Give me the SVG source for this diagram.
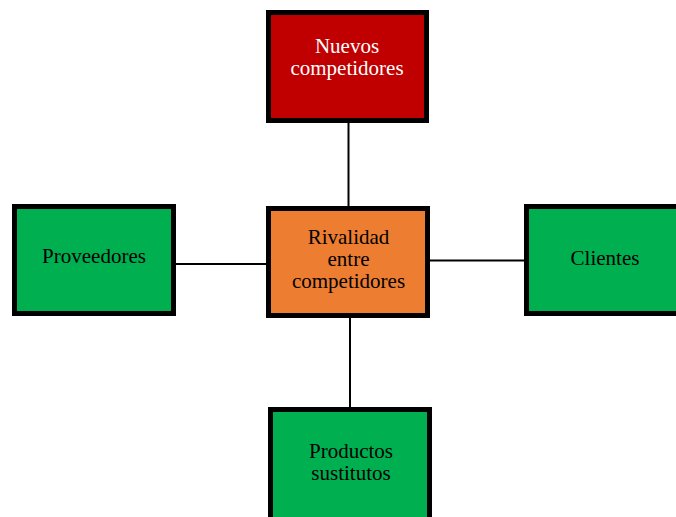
<svg xmlns="http://www.w3.org/2000/svg" width="676" height="517" viewBox="0 0 676 517">
<style>
.box{stroke:#000;stroke-width:5}
.red{fill:#C00000}
.green{fill:#00B050}
.orange{fill:#ED7D31}
text{font-family:"Liberation Serif","Times New Roman",serif;font-size:21px;text-anchor:middle}
.w{fill:#fff}
.k{fill:#000}
.con line{stroke:#000;stroke-width:2}
</style>
<rect width="676" height="517" fill="#fff"/>
<g id="connectors" class="con">
<line x1="348.5" y1="120" x2="348.5" y2="208"/>
<line x1="174" y1="264" x2="268" y2="264"/>
<line x1="428" y1="260.5" x2="526" y2="260.5"/>
<line x1="350" y1="316" x2="350" y2="409"/>
</g>
<g id="nuevos">
<rect class="box red" x="268.5" y="12.5" width="158" height="108"/>
<text class="w" x="347" y="53">Nuevos</text>
<text class="w" x="347" y="75">competidores</text>
</g>
<g id="proveedores">
<rect class="box green" x="14.5" y="206.5" width="159" height="107"/>
<text class="k" x="94" y="263">Proveedores</text>
</g>
<g id="rivalidad">
<rect class="box orange" x="268.5" y="208.5" width="159" height="107"/>
<text class="k" x="348.5" y="244">Rivalidad</text>
<text class="k" x="348.5" y="266">entre</text>
<text class="k" x="348.5" y="288">competidores</text>
</g>
<g id="clientes">
<rect class="box green" x="526.5" y="206.5" width="159" height="107"/>
<text class="k" x="605" y="265">Clientes</text>
</g>
<g id="productos">
<rect class="box green" x="270.5" y="409.5" width="159" height="115"/>
<text class="k" x="351" y="458">Productos</text>
<text class="k" x="351" y="480">sustitutos</text>
</g>
</svg>
